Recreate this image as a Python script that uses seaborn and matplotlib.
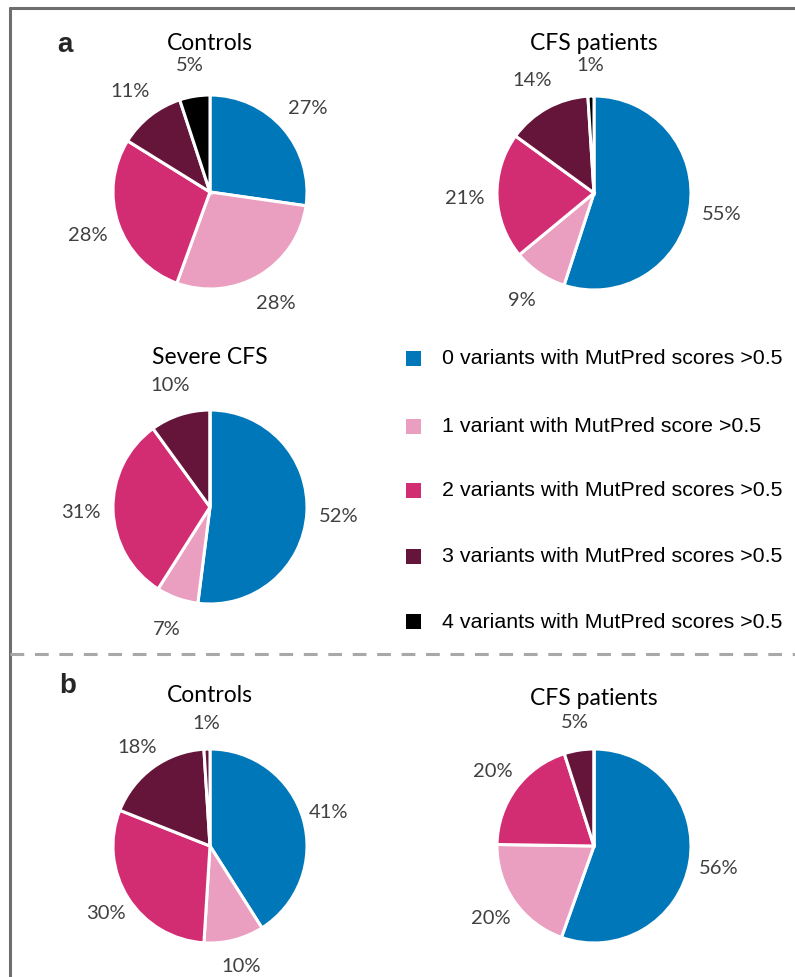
import matplotlib
matplotlib.use("Agg")
import matplotlib.pyplot as plt
import seaborn as sns
from matplotlib.patches import Rectangle
from matplotlib.lines import Line2D

# ---------------- data ----------------
categories = [
    "0 variants with MutPred scores >0.5",
    "1 variant with MutPred score >0.5",
    "2 variants with MutPred scores >0.5",
    "3 variants with MutPred scores >0.5",
    "4 variants with MutPred scores >0.5",
]
palette = ["#0077B8", "#EA9FC1", "#D22D73", "#66153A", "#000000"]

a_controls = [27, 28, 28, 11, 5]
a_cfs = [55, 9, 21, 14, 1]
a_severe = [52, 7, 31, 10, 0]
b_controls = [41, 10, 30, 18, 1]
b_cfs = [56, 20, 20, 5, 0]

titles = ["Controls", "CFS patients", "Severe CFS", "Controls", "CFS patients"]
panel_labels = ["a", "b"]

# ---------------- figure ----------------
sns.set_theme(style="white")
plt.rcParams["font.family"] = ["Lato", "DejaVu Sans"]

W, H = 795, 978
fig = plt.figure(figsize=(W / 100, H / 100), dpi=100)
fig.patch.set_facecolor("white")

R = 97
EXT = 1.5


def pie_axes(cx, cy):
    s = 2 * EXT * R
    ax = fig.add_axes([(cx - EXT * R) / W, 1 - (cy + EXT * R) / H, s / W, s / H])
    return ax


def draw_pie(cx, cy, values, title, colors, title_dy=150, ldist=1.33):
    ax = pie_axes(cx, cy)
    labels_pct = [f"{v}%" if v > 0 else "" for v in values]
    wedges, texts = ax.pie(
        [max(v, 1e-9) for v in values],
        colors=colors,
        startangle=90,
        counterclock=False,
        radius=1.0,
        labels=labels_pct,
        labeldistance=ldist,
        wedgeprops=dict(edgecolor="white", linewidth=2.2),
        textprops=dict(fontsize=14.5, color="#404040", ha="center", va="center"),
    )
    for t in texts:
        t.set_horizontalalignment("center")
    ax.set_xlim(-EXT, EXT)
    ax.set_ylim(-EXT, EXT)
    ax.set_aspect("equal")
    ax.axis("off")
    fig.text(cx / W, 1 - (cy - title_dy) / H, title, ha="center", va="center",
             fontsize=16.5, color="black")
    return ax


draw_pie(210, 193, a_controls, titles[0], palette)
draw_pie(594, 194, a_cfs, titles[1], palette)
draw_pie(210, 508, a_severe, titles[2], palette)
b_ctrl_colors = palette[:4] + [palette[3]]
draw_pie(210, 847, b_controls, titles[3], b_ctrl_colors, title_dy=151, ldist=1.27)
draw_pie(594, 847, b_cfs, titles[4], palette, title_dy=148, ldist=1.3)

# panel labels
fig.text(65 / W, 1 - 45 / H, panel_labels[0], fontsize=20, fontweight="bold",
         ha="center", va="center", family=["Liberation Sans", "DejaVu Sans"])
fig.text(68 / W, 1 - 686 / H, panel_labels[1], fontsize=20, fontweight="bold",
         ha="center", va="center", family=["Liberation Sans", "DejaVu Sans"])

# legend
leg_y = [359, 427, 491, 557, 622]
for cat, col, y in zip(categories, palette, leg_y):
    fig.patches.append(Rectangle((406 / W, 1 - (y + 7.5) / H), 15 / W, 15 / H,
                                 transform=fig.transFigure, facecolor=col,
                                 edgecolor="none"))
    fig.text(442 / W, 1 - y / H, cat, fontsize=15.4, ha="left", va="center",
             color="black", family=["Liberation Sans", "DejaVu Sans"])

# frame lines
fig.add_artist(Line2D([10 / W, 1.0], [1 - 9 / H, 1 - 9 / H], transform=fig.transFigure,
                      color="#6E6E6E", linewidth=2.2))
fig.add_artist(Line2D([10 / W, 10 / W], [1 - 9 / H, 0], transform=fig.transFigure,
                      color="#6E6E6E", linewidth=2.2))
fig.add_artist(Line2D([10 / W, 1.0], [1 - 655 / H, 1 - 655 / H], transform=fig.transFigure,
                      color="#A8A8A8", linewidth=2.2, linestyle=(0, (4.5, 3.5))))

fig.savefig("out.png", dpi=100, facecolor="white")
